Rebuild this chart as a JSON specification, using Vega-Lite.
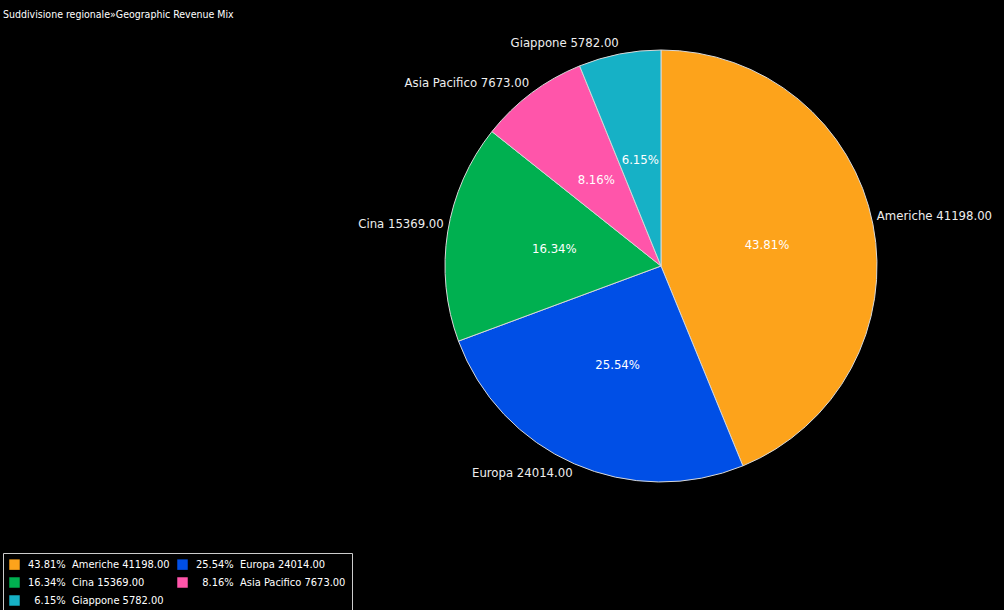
{
  "$schema": "https://vega.github.io/schema/vega-lite/v6.json",
  "autosize": {"type": "none"},
  "padding": {"left": 445, "top": 50, "right": 127, "bottom": 128},
  "width": 432,
  "height": 432,
  "background": "#000000",
  "config": {
    "view": {"stroke": null},
    "font": "DejaVu Sans Condensed, DejaVu Sans, sans-serif"
  },
  "title": {
    "text": "Suddivisione regionale»Geographic Revenue Mix",
    "anchor": "start",
    "frame": "group",
    "orient": "top",
    "dx": -442,
    "offset": 7,
    "baseline": "bottom",
    "fontSize": 10.5,
    "fontWeight": "normal",
    "color": "#ffffff"
  },
  "data": {
    "values": [
      {"region": "Americhe", "value": 41198, "order": 1},
      {"region": "Europa", "value": 24014, "order": 2},
      {"region": "Cina", "value": 15369, "order": 3},
      {"region": "Asia Pacifico", "value": 7673, "order": 4},
      {"region": "Giappone", "value": 5782, "order": 5}
    ]
  },
  "transform": [
    {"stack": "value", "groupby": [], "sort": [{"field": "order", "order": "ascending"}], "offset": "normalize", "as": ["v0", "v1"]},
    {"calculate": "(datum.v0 + datum.v1) / 2", "as": "mid"},
    {"calculate": "format(datum.v1 - datum.v0, '.2%')", "as": "pctLabel"},
    {"calculate": "datum.region + ' ' + format(datum.value, '.2f')", "as": "outerLabel"},
    {"calculate": "'\u200b' + pad(datum.pctLabel, 6, '\u2007', 'left') + '\u00a0\u00a0' + datum.outerLabel", "as": "legendLabel"}
  ],
  "layer": [
    {
      "mark": {"type": "arc", "stroke": "#d8d8d8", "strokeWidth": 1},
      "encoding": {
        "theta": {"field": "v0", "type": "quantitative", "scale": {"domain": [0, 1]}, "stack": null},
        "theta2": {"field": "v1"},
        "color": {
          "field": "legendLabel",
          "type": "nominal",
          "sort": null,
          "scale": {"range": ["#FDA31B", "#004FE6", "#00B050", "#FF55AA", "#16B1C6"]},
          "legend": {
            "title": null,
            "orient": "none",
            "direction": "horizontal",
            "legendX": -442,
            "legendY": 503,
            "columns": 2,
            "columnPadding": 7,
            "rowPadding": 6,
            "padding": 6,
            "strokeColor": "#cccccc",
            "fillColor": "#000000",
            "symbolType": "square",
            "symbolSize": 110,
            "symbolStrokeWidth": 0,
            "symbolOffset": 0,
            "labelOffset": 8,
            "labelColor": "#ffffff",
            "labelFontSize": 11,
            "labelLimit": 300
          }
        }
      }
    },
    {
      "mark": {"type": "text", "radius": 108, "color": "#ffffff", "fontSize": 13},
      "encoding": {
        "theta": {"field": "mid", "type": "quantitative", "scale": {"domain": [0, 1]}, "stack": null},
        "text": {"field": "pctLabel"}
      }
    },
    {
      "transform": [{"filter": "datum.region === 'Americhe'"}],
      "mark": {"type": "text", "radius": 220, "color": "#eeeeee", "fontSize": 13, "align": "left", "baseline": "bottom"},
      "encoding": {
        "theta": {"field": "mid", "type": "quantitative", "scale": {"domain": [0, 1]}, "stack": null},
        "text": {"field": "outerLabel"}
      }
    },
    {
      "transform": [{"filter": "datum.region !== 'Americhe' && datum.region !== 'Europa'"}],
      "mark": {"type": "text", "radius": 220, "color": "#eeeeee", "fontSize": 13, "align": "right", "baseline": "bottom"},
      "encoding": {
        "theta": {"field": "mid", "type": "quantitative", "scale": {"domain": [0, 1]}, "stack": null},
        "text": {"field": "outerLabel"}
      }
    },
    {
      "transform": [{"filter": "datum.region === 'Europa'"}],
      "mark": {"type": "text", "radius": 220, "color": "#eeeeee", "fontSize": 13, "align": "right", "baseline": "top"},
      "encoding": {
        "theta": {"field": "mid", "type": "quantitative", "scale": {"domain": [0, 1]}, "stack": null},
        "text": {"field": "outerLabel"}
      }
    }
  ]
}
